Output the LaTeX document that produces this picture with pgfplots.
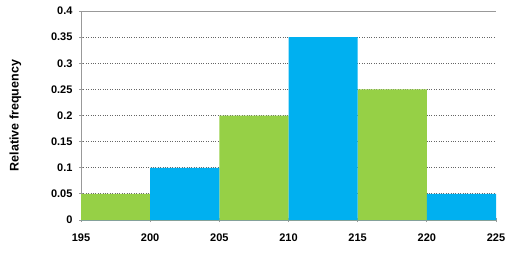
\documentclass[border=0pt]{standalone}
\usepackage{pgfplots}
\pgfplotsset{compat=1.18}
\usepackage{fontspec}
\setmainfont{Liberation Sans}
\definecolor{hgreen}{RGB}{150,208,70}
\definecolor{hblue}{RGB}{0,176,240}
\begin{document}
\begin{tikzpicture}
\begin{axis}[
  scale only axis,
  width=415pt, height=209pt,
  xmin=195, xmax=225, ymin=0, ymax=0.4,
  xtick={195,200,205,210,215,220,225},
  ytick={0,0.05,0.1,0.15,0.2,0.25,0.3,0.35,0.4},
  yticklabels={0,0.05,0.1,0.15,0.2,0.25,0.3,0.35,0.4},
  xticklabels={195,200,205,210,215,220,225},
  axis x line=bottom, axis y line=left,
  axis line style={-, draw=gray!80, line width=0.8pt},
  tick style={draw=gray!80, line width=0.8pt},
  major tick length=4pt,
  x tick label style={font=\bfseries\fontsize{11}{12}\selectfont, yshift=-8pt},
  y tick label style={font=\bfseries\fontsize{11}{12}\selectfont, xshift=-3pt},
  ymajorgrids,
  major grid style={dotted, draw=black!60, line width=0.8pt},
  ylabel={Relative frequency},
  ylabel style={font=\bfseries\fontsize{12.5}{14}\selectfont, at={(axis description cs:-0.158,0.5)}, anchor=center},
  clip=false,
]
\addplot[ybar interval, fill=hgreen, draw=none] coordinates {(195,0.05) (200,0) (205,0.2) (210,0) (215,0.25) (220,0) (225,0)};
\addplot[ybar interval, fill=hblue, draw=none] coordinates {(195,0) (200,0.1) (205,0) (210,0.35) (215,0) (220,0.05) (225,0)};
\draw[gray!80, line width=1pt] (axis cs:195,0.4) -- (axis cs:225,0.4);
\end{axis}
\useasboundingbox (-81pt,-35pt) rectangle (437pt,220pt);
\end{tikzpicture}
\end{document}
